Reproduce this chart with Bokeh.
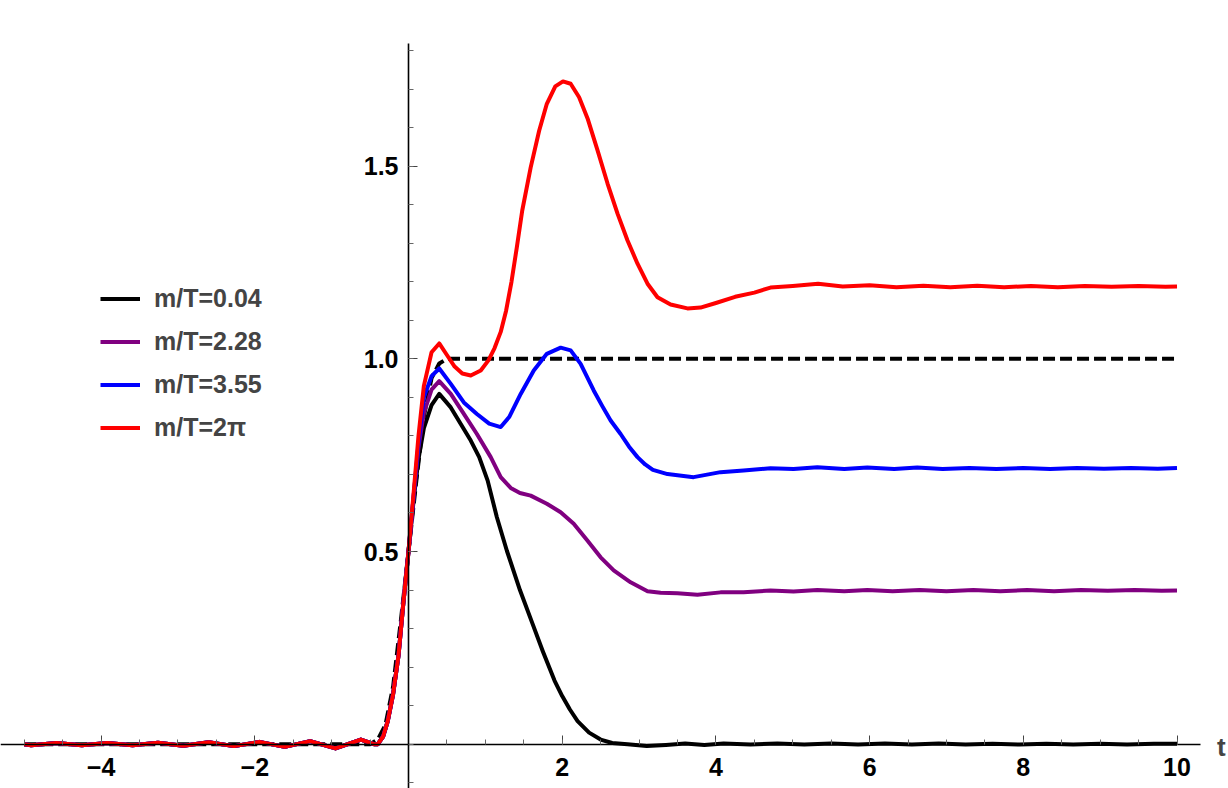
from bokeh.plotting import figure
from bokeh.models import (Range1d, FixedTicker, Legend, LegendItem, Label,
                          CustomJSTickFormatter, ColumnDataSource)
from bokeh.embed import file_html
from bokeh.resources import INLINE

# ---- data -------------------------------------------------------------
# small ripples before the onset (shared by the four response curves)
t_pre = [-5.0, -4.91, -4.58, -4.25, -3.92, -3.59, -3.26, -2.93, -2.60, -2.27,
         -1.94, -1.61, -1.28, -0.95, -0.62, -0.45]
y_pre = [0.0, -0.003, 0.003, -0.003, 0.003, -0.003, 0.004, -0.004, 0.005, -0.005,
         0.006, -0.007, 0.008, -0.011, 0.012, 0.0]

# steep rise around t = 0
t_rise = [-0.40, -0.33, -0.27, -0.20, -0.13, -0.07, 0.0, 0.07, 0.13, 0.20, 0.30]
y_rise_black = [0.0, 0.02, 0.06, 0.13, 0.23, 0.36, 0.50, 0.64, 0.74, 0.82, 0.88]
y_rise_purple = [0.0, 0.02, 0.06, 0.13, 0.23, 0.36, 0.50, 0.65, 0.77, 0.86, 0.92]
y_rise_blue = [0.0, 0.02, 0.06, 0.13, 0.23, 0.36, 0.50, 0.65, 0.78, 0.90, 0.955]
y_rise_red = [0.0, 0.02, 0.06, 0.13, 0.23, 0.36, 0.50, 0.66, 0.80, 0.93, 1.017]

# after the first maximum
t_black = [0.40, 0.55, 0.68, 0.81, 0.92, 1.03, 1.15, 1.28, 1.45, 1.60, 1.75, 1.90,
           2.00, 2.10, 2.20, 2.35, 2.50, 2.65, 2.85, 3.10, 3.35, 3.60, 3.85, 4.10,
           4.45, 4.80, 5.15, 5.50, 5.85, 6.20, 6.55, 6.90, 7.25, 7.60, 7.95, 8.30,
           8.65, 9.00, 9.35, 9.70, 10.0]
y_black = [0.909, 0.874, 0.831, 0.788, 0.745, 0.684, 0.589, 0.502, 0.400, 0.320,
           0.240, 0.165, 0.125, 0.090, 0.060, 0.030, 0.012, 0.003, 0.000, -0.005,
           -0.002, 0.002, -0.002, 0.002, -0.001, 0.002, -0.001, 0.002, -0.001,
           0.002, -0.001, 0.002, -0.001, 0.001, -0.001, 0.001, -0.001, 0.001,
           -0.001, 0.001, 0.001]

t_purple = [0.40, 0.55, 0.72, 0.89, 1.07, 1.20, 1.33, 1.45, 1.59, 1.80, 1.98, 2.15,
            2.33, 2.50, 2.67, 2.89, 3.11, 3.28, 3.50, 3.76, 4.06, 4.36, 4.71, 5.01,
            5.32, 5.67, 5.97, 6.30, 6.65, 7.00, 7.35, 7.70, 8.05, 8.40, 8.75, 9.10,
            9.45, 9.80, 10.0]
y_purple = [0.942, 0.909, 0.857, 0.805, 0.745, 0.693, 0.665, 0.652, 0.645, 0.624,
            0.602, 0.572, 0.528, 0.485, 0.451, 0.420, 0.397, 0.393, 0.392, 0.388,
            0.394, 0.394, 0.399, 0.396, 0.400, 0.397, 0.400, 0.397, 0.400, 0.397,
            0.400, 0.397, 0.400, 0.397, 0.400, 0.398, 0.400, 0.398, 0.399]

t_blue = [0.40, 0.55, 0.72, 0.89, 1.05, 1.20, 1.31, 1.46, 1.63, 1.80, 1.98, 2.11,
          2.24, 2.41, 2.52, 2.63, 2.76, 2.87, 2.98, 3.08, 3.18, 3.37, 3.71, 4.06,
          4.36, 4.71, 5.01, 5.32, 5.67, 5.97, 6.32, 6.62, 6.95, 7.30, 7.65, 8.00,
          8.35, 8.70, 9.05, 9.40, 9.75, 10.0]
y_blue = [0.975, 0.935, 0.887, 0.857, 0.832, 0.823, 0.849, 0.909, 0.970, 1.013,
          1.029, 1.022, 0.987, 0.918, 0.878, 0.840, 0.805, 0.772, 0.745, 0.726,
          0.712, 0.701, 0.693, 0.706, 0.710, 0.716, 0.714, 0.719, 0.714, 0.718,
          0.714, 0.718, 0.714, 0.717, 0.714, 0.717, 0.714, 0.717, 0.715, 0.717,
          0.715, 0.717]

t_red = [0.40, 0.50, 0.60, 0.70, 0.81, 0.94, 1.04, 1.12, 1.20, 1.27, 1.34, 1.41,
         1.48, 1.59, 1.70, 1.80, 1.91, 2.01, 2.11, 2.22, 2.33, 2.46, 2.59, 2.72,
         2.85, 2.98, 3.11, 3.24, 3.41, 3.63, 3.80, 4.00, 4.25, 4.50, 4.71, 5.00,
         5.33, 5.65, 6.00, 6.35, 6.70, 7.05, 7.40, 7.75, 8.10, 8.45, 8.80, 9.15,
         9.50, 9.85, 10.0]
y_red = [1.040, 1.010, 0.980, 0.962, 0.957, 0.970, 0.996, 1.028, 1.070, 1.125,
         1.200, 1.290, 1.385, 1.497, 1.592, 1.662, 1.707, 1.720, 1.714, 1.679,
         1.624, 1.541, 1.455, 1.377, 1.307, 1.247, 1.195, 1.160, 1.141, 1.131,
         1.133, 1.145, 1.161, 1.172, 1.185, 1.189, 1.195, 1.188, 1.191, 1.186,
         1.190, 1.186, 1.190, 1.186, 1.189, 1.186, 1.189, 1.187, 1.189, 1.187,
         1.188]

# reference step (dashed)
t_step = [-5.0, -0.5, -0.4, -0.3, -0.2, -0.1, 0.0, 0.1, 0.2, 0.3, 0.4, 0.5, 10.0]
y_step = [0.0, 0.0, 0.012, 0.05, 0.15, 0.32, 0.5, 0.68, 0.85, 0.95, 0.988, 1.0, 1.0]

labels = ["m/T=0.04", "m/T=2.28", "m/T=3.55", "m/T=2\u03c0"]
colors = ["#000000", "#800080", "#0000ff", "#ff0000"]

x_ticks = [-4, -2, 2, 4, 6, 8, 10]
y_ticks = [0.5, 1.0, 1.5]

# ---- figure -----------------------------------------------------------
W, H = 1228, 788
X0, X1 = -5.309, 10.670
Y0, Y1 = -0.115, 1.930

p = figure(width=W, height=H, output_backend="svg", toolbar_location=None,
           x_range=Range1d(X0, X1), y_range=Range1d(Y0, Y1), min_border=0)
p.outline_line_color = None
p.grid.visible = False
p.background_fill_color = "white"
p.border_fill_color = "white"

FONT = "Liberation Sans"

xa = p.xaxis[0]
xa.fixed_location = 0
xa.bounds = (X0, 10.306)
xa.ticker = FixedTicker(ticks=x_ticks,
                        minor_ticks=[-5 + 0.5 * i for i in range(31)])
xa.formatter = CustomJSTickFormatter(
    code="return tick < 0 ? '\\u2212' + Math.abs(tick) : String(tick)")
ya = p.yaxis[0]
ya.fixed_location = 0
ya.bounds = (Y0, 1.818)
ya.ticker = FixedTicker(ticks=y_ticks,
                        minor_ticks=[round(-0.1 + 0.1 * i, 2) for i in range(20)])
ya.formatter = CustomJSTickFormatter(code="return tick.toFixed(1)")

for ax in (xa, ya):
    ax.axis_line_color = "black"
    ax.axis_line_width = 1.6
    ax.major_tick_in = 9
    ax.major_tick_out = 0
    ax.minor_tick_in = 5
    ax.minor_tick_out = 0
    ax.major_tick_line_color = "#444444"
    ax.minor_tick_line_color = "#666666"
    ax.major_tick_line_width = 1
    ax.minor_tick_line_width = 1
    ax.major_label_text_font = FONT
    ax.major_label_text_font_style = "bold"
    ax.major_label_text_font_size = "25px"
    ax.major_label_text_color = "black"
xa.major_label_standoff = 14
ya.major_label_standoff = 10

# ---- curves -----------------------------------------------------------
p.line(t_step, y_step, line_color="black", line_width=4, line_dash="12 5")

series = [
    (t_rise, y_rise_black, t_black, y_black),
    (t_rise, y_rise_purple, t_purple, y_purple),
    (t_rise, y_rise_blue, t_blue, y_blue),
    (t_rise, y_rise_red, t_red, y_red),
]
items = []
for (tr, yr, tp, yp), col, lab in zip(series, colors, labels):
    src = ColumnDataSource(data=dict(t=t_pre + tr + tp, y=y_pre + yr + yp))
    r = p.line("t", "y", source=src, line_color=col, line_width=4,
               line_join="round")
    items.append(LegendItem(label=lab, renderers=[r]))

legend = Legend(items=items, location=(100, 339), orientation="vertical",
                padding=0, spacing=0, margin=0, glyph_width=40, glyph_height=43,
                label_height=43, label_standoff=14, label_text_font=FONT,
                label_text_font_style="bold", label_text_font_size="25px",
                border_line_alpha=0, background_fill_alpha=0)
p.add_layout(legend, "center")

p.add_layout(Label(x=10.52, y=-0.008, text="t", text_font=FONT,
                   text_font_style="bold", text_font_size="26px",
                   text_baseline="middle"))

open("out.html", "w").write(file_html(p, INLINE))
